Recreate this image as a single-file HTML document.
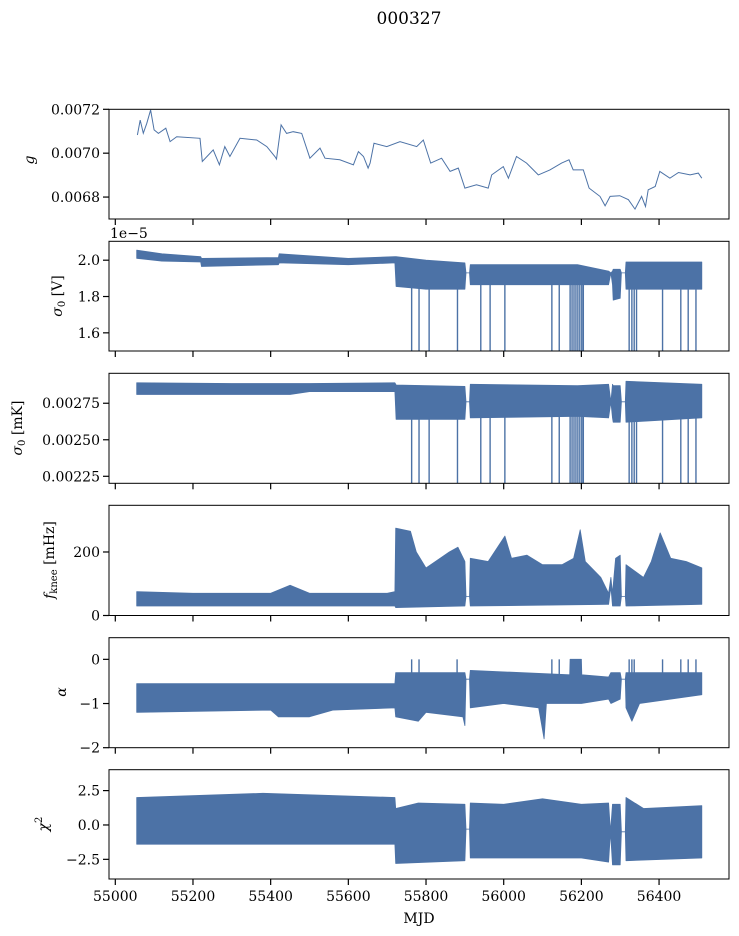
<!DOCTYPE html>
<html><head><meta charset="utf-8">
<style>
html,body{margin:0;padding:0;background:#fff;}
svg{display:block;font-family:"DejaVu Serif","Liberation Serif",serif;}
</style></head>
<body>
<svg id="fig" width="739" height="936" viewBox="0 0 739 936" xmlns="http://www.w3.org/2000/svg">
<text x="409" y="24" font-size="17" text-anchor="middle">000327</text>
</svg>
<script>
// ---- shared x axis ----
const xTicks = [55000,55200,55400,55600,55800,56000,56200,56400];
// ---- panel 1: gain g ----
const gMjd = [55057,55064,55072,55081,55091,55100,55111,55130,55141,55158,55218,55224,55252,55268,55282,55295,55321,55364,55390,55411,55415,55427,55441,55458,55480,55501,55527,55540,55578,55613,55626,55639,55651,55656,55666,55699,55733,55776,55793,55812,55840,55862,55883,55900,55930,55960,55969,55999,56012,56033,56059,56089,56119,56149,56168,56179,56205,56220,56248,56261,56274,56299,56321,56338,56355,56365,56372,56390,56402,56428,56450,56480,56501,56510];
const gVal = [0.007083,0.007151,0.007091,0.007136,0.007197,0.007106,0.00709,0.007114,0.007053,0.007075,0.007068,0.006962,0.007015,0.006947,0.00703,0.006985,0.007068,0.00706,0.00703,0.006985,0.006973,0.007129,0.00709,0.007098,0.00709,0.006977,0.007023,0.006977,0.00697,0.006947,0.007007,0.006985,0.006932,0.006955,0.007045,0.00703,0.007053,0.00703,0.00706,0.006955,0.006977,0.006917,0.006932,0.006841,0.006856,0.006841,0.006901,0.006939,0.006886,0.006985,0.006955,0.006901,0.006924,0.006955,0.00697,0.006924,0.006924,0.006841,0.006803,0.00676,0.006803,0.006806,0.006788,0.006745,0.006803,0.006757,0.006833,0.006848,0.006917,0.006886,0.006912,0.006901,0.006909,0.006886];
const gTicks = [0.0068,0.0070,0.0072];
const gTickLabels = ["0.0068","0.0070","0.0072"];
// ---- panel 2: sigma0 [V] (x1e-5) ----
const sVHiMjd = [55055,55120,55220,55222,55420,55422,55600,55720,55723,55800,55900,55903,55912,55914,56190,56270,56276,56280,56282,56300,56303,56313,56315,56510];
const sVHi = [2.055,2.035,2.02,2.01,2.015,2.035,2.01,2.02,2.02,2.0,1.985,1.93,1.93,1.975,1.975,1.94,1.93,1.94,1.95,1.95,1.93,1.93,1.99,1.99];
const sVLoMjd = [55055,55120,55220,55222,55420,55422,55600,55720,55723,55800,55900,55903,55912,55914,56190,56270,56276,56280,56282,56300,56303,56313,56315,56510];
const sVLo = [2.01,1.995,1.99,1.965,1.975,1.985,1.975,1.985,1.855,1.84,1.84,1.93,1.93,1.865,1.865,1.865,1.93,1.865,1.78,1.79,1.93,1.93,1.84,1.84];
const spikeMjd = [55763,55782,55808,55881,55941,55965,56003,56124,56143,56171,56176,56181,56186,56191,56196,56201,56205,56323,56330,56336,56342,56409,56456,56475,56495];
const sVTicks = [1.6,1.8,2.0];
const sVTickLabels = ["1.6","1.8","2.0"];
// ---- panel 3: sigma0 [mK] ----
const sKHiMjd = [55055,55300,55500,55720,55723,55900,55903,55912,55914,56190,56270,56276,56280,56282,56300,56303,56313,56315,56510];
const sKHi = [0.00289,0.002885,0.002885,0.00289,0.002875,0.002865,0.00276,0.00276,0.00288,0.00287,0.00288,0.00276,0.00288,0.00287,0.00287,0.00276,0.00276,0.0029,0.00288];
const sKLoMjd = [55055,55300,55450,55500,55720,55723,55900,55903,55912,55914,56190,56270,56276,56280,56282,56300,56303,56313,56315,56510];
const sKLo = [0.00281,0.00281,0.00281,0.00283,0.00283,0.00264,0.00264,0.00276,0.00276,0.00265,0.00266,0.00265,0.00276,0.00265,0.00262,0.00262,0.00276,0.00276,0.00262,0.00265];
const sKTicks = [0.00225,0.00250,0.00275];
const sKTickLabels = ["0.00225","0.00250","0.00275"];
// ---- panel 4: fknee [mHz] ----
const fHiMjd = [55055,55200,55400,55450,55500,55700,55720,55722,55760,55775,55800,55830,55860,55882,55900,55903,55912,55914,55960,56003,56020,56060,56100,56150,56180,56197,56210,56250,56270,56276,56280,56288,56300,56303,56313,56315,56360,56380,56403,56430,56470,56510];
const fHi = [75,70,70,95,70,70,75,275,265,200,150,175,200,215,170,60,60,180,170,250,180,190,160,160,180,270,170,120,70,120,70,180,190,60,60,160,120,170,260,180,170,150];
const fLoMjd = [55055,55720,55722,55900,55903,55912,55914,56270,56276,56280,56300,56303,56313,56315,56510];
const fLo = [30,30,25,30,60,60,30,35,90,30,30,60,60,30,35];
const fTicks = [0,200];
const fTickLabels = ["0","200"];
// ---- panel 5: alpha ----
const aHiMjd = [55055,55720,55722,55900,55903,55912,55914,56170,56171,56200,56201,56270,56276,56300,56303,56313,56315,56510];
const aHi = [-0.55,-0.55,-0.3,-0.3,-0.45,-0.45,-0.25,-0.35,0,0,-0.35,-0.4,-0.3,-0.3,-0.45,-0.45,-0.3,-0.3];
const aLoMjd = [55055,55400,55420,55500,55560,55720,55722,55780,55800,55895,55900,55903,55912,55914,56000,56090,56104,56110,56200,56270,56276,56300,56303,56313,56315,56330,56350,56510];
const aLo = [-1.2,-1.15,-1.3,-1.3,-1.15,-1.1,-1.3,-1.4,-1.2,-1.3,-1.5,-0.45,-0.45,-1.1,-1.0,-1.1,-1.8,-1.0,-1.0,-0.9,-1.0,-0.9,-0.45,-0.45,-1.1,-1.4,-1.0,-0.8];
const aSpikeMjd = [55763,55782,55880,56124,56143,56323,56330,56336,56409,56456,56475,56495];
const aTicks = [-2,-1,0];
const aTickLabels = ["\u22122","\u22121","0"];
// ---- panel 6: chi2 ----
const cHiMjd = [55055,55380,55720,55722,55780,55900,55903,55912,55914,56000,56100,56200,56270,56275,56280,56300,56303,56313,56315,56360,56510];
const cHi = [2.0,2.3,2.0,1.2,1.6,1.5,-0.3,-0.3,1.6,1.5,1.9,1.5,1.6,-0.5,1.5,1.5,-0.5,-0.5,2.0,1.2,1.4];
const cLoMjd = [55055,55720,55722,55900,55903,55912,55914,56200,56270,56275,56280,56300,56303,56313,56315,56510];
const cLo = [-1.4,-1.4,-2.8,-2.6,-0.3,-0.3,-2.4,-2.4,-2.7,-0.5,-2.9,-2.9,-0.5,-0.5,-2.6,-2.4];
const cTicks = [-2.5,0,2.5];
const cTickLabels = ["\u22122.5","0.0","2.5"];

const NS = "http://www.w3.org/2000/svg";
const svg = document.getElementById('fig');
const COLOR = "#4c72a6";
const X0 = 109, X1 = 729;
function xs(v){ return 115.3 + (v - 55000) * 0.3884; }
function mk(tag, attrs, parent){
  const e = document.createElementNS(NS, tag);
  for (const k in attrs) e.setAttribute(k, attrs[k]);
  (parent || svg).appendChild(e);
  return e;
}
function panel(name, top, bot, ymin, ymax, ticks, labels){
  const g = mk('g', {});
  
  
  const ys = v => bot - (v - ymin) / (ymax - ymin) * (bot - top);
  return {g, ys, top, bot, ticks, labels, name};
}
function frame(p, showXLabels){
  const r = mk('rect', {x:X0, y:p.top, width:X1-X0, height:p.bot-p.top, fill:'none', stroke:'#000', 'stroke-width':1}, p.g);
  
  
  p.ticks.forEach((t,i) => {
    const y = p.ys(t);
    mk('line', {x1:X0-6, x2:X0, y1:y, y2:y, stroke:'#000', 'stroke-width':1.2}, p.g);
    const tx = mk('text', {x:X0-9, y:y+5, 'font-size':14, 'text-anchor':'end'}, p.g);
    tx.textContent = p.labels[i];
    
    
  });
  xTicks.forEach(t => {
    const x = xs(t);
    mk('line', {x1:x, x2:x, y1:p.bot, y2:p.bot+6, stroke:'#000', 'stroke-width':1.2}, p.g);
    if (showXLabels){
      const tx = mk('text', {x:x, y:p.bot+22, 'font-size':14, 'text-anchor':'middle'}, p.g);
      tx.textContent = String(t);
      
      
    }
  });
}
function band(p, hiX, hi, loX, lo){
  let d = '';
  hiX.forEach((m,i) => { d += (i ? 'L' : 'M') + xs(m).toFixed(1) + ' ' + p.ys(hi[i]).toFixed(1); });
  for (let i = loX.length - 1; i >= 0; i--) d += 'L' + xs(loX[i]).toFixed(1) + ' ' + p.ys(lo[i]).toFixed(1);
  d += 'Z';
  const e = mk('path', {d, fill:COLOR, stroke:COLOR, 'stroke-width':0.8, 'stroke-linejoin':'round'}, p.g);
  
  
}
function spikes(p, mjds, from, to){
  mjds.forEach(m => {
    const e = mk('line', {x1:xs(m), x2:xs(m), y1:p.ys(from), y2:p.ys(to), stroke:COLOR, 'stroke-width':1.4}, p.g);
    
    
  });
}
function ylabel(x, y, html, name){
  const t = mk('text', {x:x, y:y, 'font-size':14, 'text-anchor':'middle', transform:`rotate(-90 ${x} ${y})`});
  t.innerHTML = html;
  
  
}

// panel 1
const p1 = panel('gain', 109.3, 219, 0.00670, 0.0072, gTicks, gTickLabels);
const line = mk('polyline', {points: gMjd.map((m,i) => xs(m).toFixed(1) + ',' + p1.ys(gVal[i]).toFixed(1)).join(' '), fill:'none', stroke:COLOR, 'stroke-width':1}, p1.g);


frame(p1, false);
ylabel(34, 160, '<tspan font-style="italic">g</tspan>', 'gain-y-label');

// panel 2
const p2 = panel('sigma0-volts', 241.3, 351, 1.50, 2.104, sVTicks, sVTickLabels);
band(p2, sVHiMjd, sVHi, sVLoMjd, sVLo);
spikes(p2, spikeMjd, 1.88, 1.50);
frame(p2, false);
const off = mk('text', {x:110, y:238, 'font-size':14});
off.textContent = '1e\u22125';


ylabel(62, 296, '<tspan font-style="italic">σ</tspan><tspan font-size="10" dy="3">0</tspan><tspan dy="-3"> [V]</tspan>', 'sigma0-volts-y-label');

// panel 3
const p3 = panel('sigma0-mk', 373.3, 483.3, 0.002202, 0.002955, sKTicks, sKTickLabels);
band(p3, sKHiMjd, sKHi, sKLoMjd, sKLo);
spikes(p3, spikeMjd, 0.00268, 0.002202);
frame(p3, false);
ylabel(22, 428, '<tspan font-style="italic">σ</tspan><tspan font-size="10" dy="3">0</tspan><tspan dy="-3"> [mK]</tspan>', 'sigma0-mk-y-label');

// panel 4
const p4 = panel('fknee', 505.3, 615.5, 0, 347, fTicks, fTickLabels);
band(p4, fHiMjd, fHi, fLoMjd, fLo);
frame(p4, false);
ylabel(54, 560, '<tspan font-style="italic">f</tspan><tspan font-size="10" dy="3">knee</tspan><tspan dy="-3"> [mHz]</tspan>', 'fknee-y-label');

// panel 5
const p5 = panel('alpha', 637.7, 747.7, -2, 0.49, aTicks, aTickLabels);
band(p5, aHiMjd, aHi, aLoMjd, aLo);
spikes(p5, aSpikeMjd, -0.4, 0);
frame(p5, false);
ylabel(66, 692, '<tspan font-style="italic">α</tspan>', 'alpha-y-label');

// panel 6
const p6 = panel('chi2', 769.7, 879, -3.93, 4.02, cTicks, cTickLabels);
band(p6, cHiMjd, cHi, cLoMjd, cLo);
frame(p6, true);
ylabel(48, 824, '<tspan font-style="italic">χ</tspan><tspan font-size="10" dy="-6">2</tspan>', 'chi2-y-label');

const xl = mk('text', {x:419, y:923, 'font-size':14, 'text-anchor':'middle'});
xl.textContent = 'MJD';


</script>
</body></html>
